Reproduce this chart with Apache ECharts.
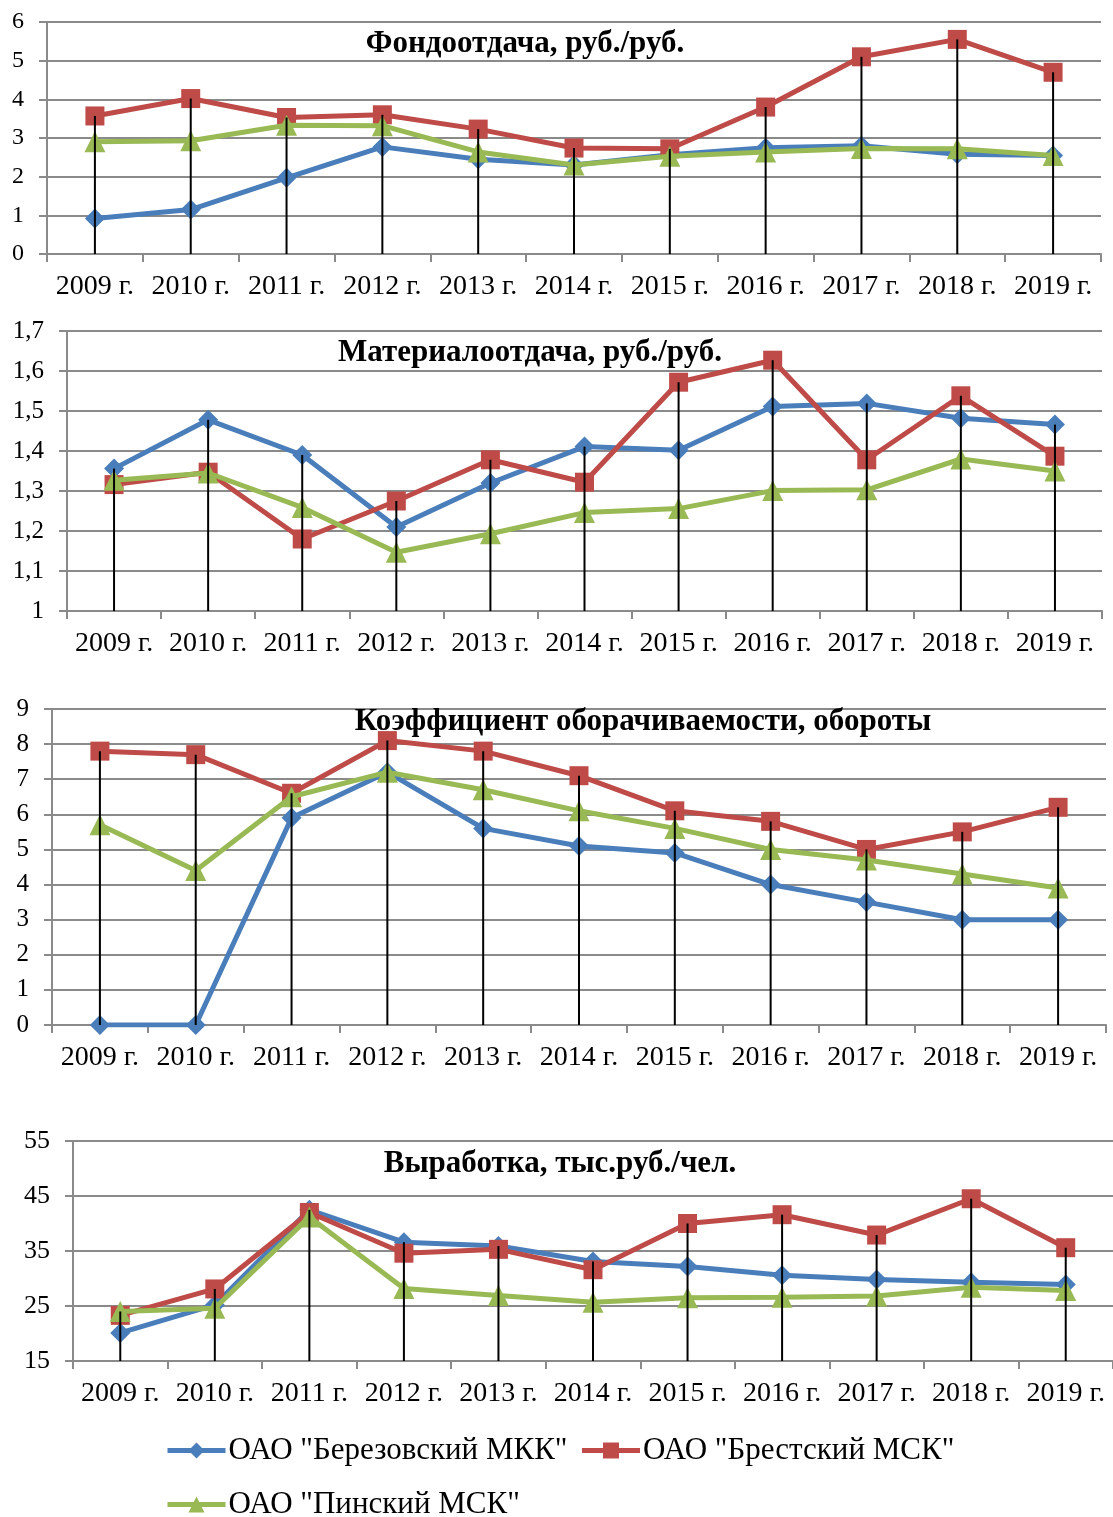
<!DOCTYPE html>
<html><head><meta charset="utf-8">
<script src="https://cdn.jsdelivr.net/npm/echarts@6/dist/echarts.min.js"></script>
<style>html,body{margin:0;padding:0;background:#fff}#c{width:1113px;height:1517px}</style>
</head><body><div id="c"></div>
<script>
const categories = ['2009 г.','2010 г.','2011 г.','2012 г.','2013 г.','2014 г.','2015 г.','2016 г.','2017 г.','2018 г.','2019 г.'];
const seriesNames = ['ОАО "Березовский МКК"','ОАО "Брестский МСК"','ОАО "Пинский МСК"'];
const chartTitles = ['Фондоотдача, руб./руб.','Материалоотдача, руб./руб.','Коэффициент оборачиваемости, обороты','Выработка, тыс.руб./чел.'];

// Фондоотдача
const fondBerezovsky = [0.92, 1.15, 1.97, 2.77, 2.45, 2.30, 2.57, 2.75, 2.80, 2.58, 2.55];
const fondBrest      = [3.57, 4.02, 3.53, 3.60, 3.23, 2.74, 2.72, 3.80, 5.10, 5.55, 4.70];
const fondPinsk      = [2.90, 2.93, 3.33, 3.32, 2.64, 2.30, 2.53, 2.64, 2.73, 2.72, 2.55];
// Материалоотдача
const matBerezovsky = [1.356, 1.478, 1.390, 1.210, 1.320, 1.411, 1.402, 1.511, 1.519, 1.482, 1.466];
const matBrest      = [1.316, 1.347, 1.180, 1.275, 1.378, 1.322, 1.572, 1.627, 1.378, 1.538, 1.387];
const matPinsk      = [1.327, 1.345, 1.259, 1.147, 1.193, 1.246, 1.256, 1.301, 1.303, 1.380, 1.350];
// Коэффициент оборачиваемости
const turnBerezovsky = [0, 0, 5.9, 7.2, 5.6, 5.1, 4.9, 4.0, 3.5, 3.0, 3.0];
const turnBrest      = [7.8, 7.7, 6.6, 8.1, 7.8, 7.1, 6.1, 5.8, 5.0, 5.5, 6.2];
const turnPinsk      = [5.7, 4.4, 6.5, 7.2, 6.7, 6.1, 5.6, 5.0, 4.7, 4.3, 3.9];
// Выработка
const outBerezovsky = [20.1, 25.2, 42.5, 36.6, 35.9, 33.1, 32.2, 30.6, 29.8, 29.3, 28.9];
const outBrest      = [23.3, 28.1, 42.0, 34.6, 35.3, 31.6, 40.0, 41.6, 37.9, 44.5, 35.6];
const outPinsk      = [24.0, 24.6, 41.2, 28.2, 26.9, 25.7, 26.5, 26.6, 26.8, 28.4, 27.8];

// y axis ranges
const yRanges = [
  {min: 0, max: 6, interval: 1},
  {min: 1, max: 1.7, interval: 0.1},
  {min: 0, max: 9, interval: 1},
  {min: 15, max: 55, interval: 10}
];

const panels = [
  [fondBerezovsky, fondBrest, fondPinsk],
  [matBerezovsky, matBrest, matPinsk],
  [turnBerezovsky, turnBrest, turnPinsk],
  [outBerezovsky, outBrest, outPinsk]
];

const grids = [
  {left: 47, top: 22, width: 1054, height: 232},
  {left: 67, top: 331, width: 1035, height: 280},
  {left: 52, top: 709, width: 1054, height: 316},
  {left: 73, top: 1141, width: 1040, height: 220}
];
const titlePos = [[525, 44], [530, 353], [643, 722], [560, 1164]];
const yLabelFont = [24, 25, 25, 26];

const colors = ['#4A7EBB', '#BE4B48', '#98B954'];
const symbols = ['diamond', 'rect', 'triangle'];
const symbolSizes = [20, 19, 21];
const gridColor = '#8A8A8A';
const serif = '"Liberation Serif", "Times New Roman", serif';

const legendCommon = {
  orient: 'horizontal', itemWidth: 58, itemHeight: 20, itemGap: 12, padding: 0,
  lineStyle: {width: 5},
  textStyle: {fontSize: 31, fontFamily: serif, color: '#000', padding: [0, 0, 0, -2]}
};

const option = {
  animation: false,
  backgroundColor: '#fff',
  grid: grids.map(g => Object.assign({outerBoundsMode: 'none', containLabel: false}, g)),
  xAxis: grids.map((g, i) => ({
    type: 'category', gridIndex: i, data: categories, boundaryGap: true,
    axisLine: {show: true, lineStyle: {color: gridColor, width: 2}},
    axisTick: {show: true, length: 8, alignWithLabel: false, lineStyle: {color: gridColor, width: 2}},
    axisLabel: {interval: 0, color: '#000', fontSize: 28, fontFamily: serif, margin: 19},
    splitLine: {show: false}
  })),
  yAxis: grids.map((g, i) => ({
    type: 'value', gridIndex: i,
    min: yRanges[i].min, max: yRanges[i].max, interval: yRanges[i].interval,
    axisLine: {show: true, lineStyle: {color: gridColor, width: 2}},
    axisTick: {show: true, length: 8, lineStyle: {color: gridColor, width: 2}},
    axisLabel: {color: '#000', fontSize: yLabelFont[i], fontFamily: serif, margin: 23,
      formatter: v => String(+v.toFixed(2)).replace('.', ',')},
    splitLine: {show: true, lineStyle: {color: gridColor, width: 2}}
  })),
  legend: [
    Object.assign({data: [seriesNames[0], seriesNames[1]], left: 165, top: 1435}, legendCommon),
    Object.assign({data: [seriesNames[2]], left: 165, top: 1489}, legendCommon)
  ],
  graphic: chartTitles.map((t, i) => ({
    type: 'text', x: titlePos[i][0], y: titlePos[i][1], z: 100,
    style: {text: t, font: 'bold 31px ' + serif, fill: '#000',
      align: 'center', verticalAlign: 'middle', textAlign: 'center', textVerticalAlign: 'middle'}
  })),
  series: []
};

panels.forEach((arrs, gi) => {
  arrs.forEach((arr, si) => {
    option.series.push({
      name: seriesNames[si], type: 'line', xAxisIndex: gi, yAxisIndex: gi,
      data: arr, symbol: symbols[si], symbolSize: symbolSizes[si], showAllSymbol: true,
      lineStyle: {color: colors[si], width: 5},
      itemStyle: {color: colors[si]},
      z: 2 + si
    });
  });
  const tops = categories.map((c, k) => [k, Math.max(...arrs.map(a => a[k]))]);
  const base = yRanges[gi].min;
  option.series.push({
    type: 'custom', xAxisIndex: gi, yAxisIndex: gi, z: 10, silent: true,
    data: tops, encode: {x: 0, y: 1},
    renderItem: (params, api) => {
      const k = api.value(0);
      const p1 = api.coord([k, api.value(1)]);
      const p2 = api.coord([k, base]);
      return {type: 'line', shape: {x1: p1[0], y1: p1[1], x2: p2[0], y2: p2[1]},
        style: {stroke: '#000', lineWidth: 2}};
    }
  });
});

const chart = echarts.init(document.getElementById('c'), null, {renderer: 'canvas'});
chart.setOption(option);
</script>
</body></html>
